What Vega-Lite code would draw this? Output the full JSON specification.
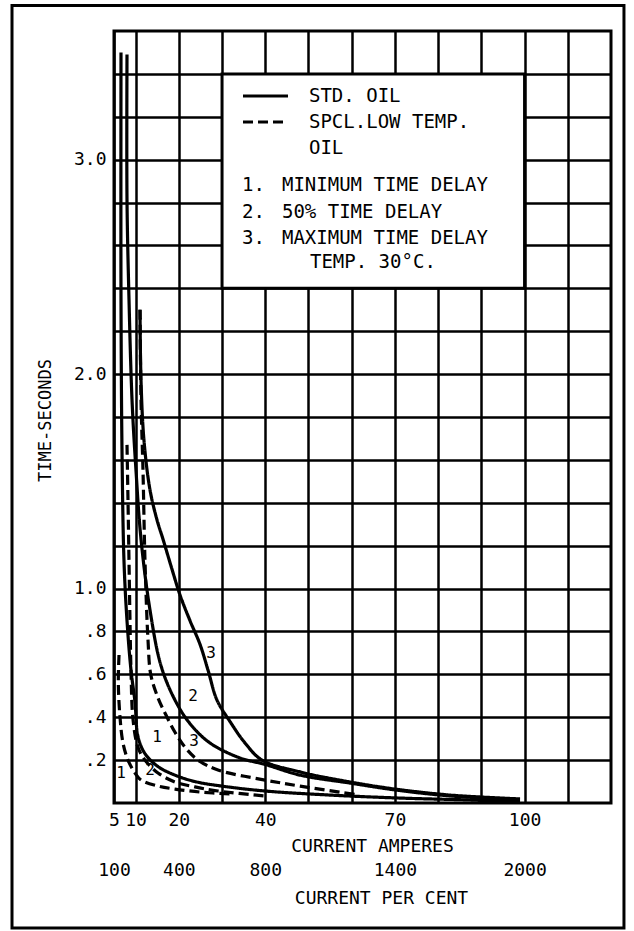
{
 "$schema": "https://vega.github.io/schema/vega-lite/v6.json",
 "width": 497, "height": 772,
 "autosize": "none",
 "padding": {"left": 114, "top": 31, "right": 23, "bottom": 128},
 "background": "white",
 "config": {"view": {"stroke": "black", "strokeWidth": 3}, "font": "DejaVu Sans Mono"},
 "datasets": {
  "curves": [
   {"c":"S1","oil":"std","i":0,"a":6.62,"s":3.50},{"c":"S1","oil":"std","i":1,"a":6.62,"s":2.35},{"c":"S1","oil":"std","i":2,"a":6.85,"s":1.65},{"c":"S1","oil":"std","i":3,"a":7.31,"s":1.13},{"c":"S1","oil":"std","i":4,"a":8.01,"s":0.85},{"c":"S1","oil":"std","i":5,"a":8.93,"s":0.62},{"c":"S1","oil":"std","i":6,"a":9.86,"s":0.47},{"c":"S1","oil":"std","i":7,"a":10.55,"s":0.31},{"c":"S1","oil":"std","i":8,"a":12.17,"s":0.23},{"c":"S1","oil":"std","i":9,"a":15.18,"s":0.17},{"c":"S1","oil":"std","i":10,"a":19.11,"s":0.13},{"c":"S1","oil":"std","i":11,"a":23.74,"s":0.10},{"c":"S1","oil":"std","i":12,"a":29.53,"s":0.08},{"c":"S1","oil":"std","i":13,"a":39.94,"s":0.056},{"c":"S1","oil":"std","i":14,"a":54.98,"s":0.037},{"c":"S1","oil":"std","i":15,"a":71.18,"s":0.023},{"c":"S1","oil":"std","i":16,"a":87.38,"s":0.014},{"c":"S1","oil":"std","i":17,"a":98.95,"s":0.005},
   {"c":"S2","oil":"std","i":0,"a":8.01,"s":3.49},{"c":"S2","oil":"std","i":1,"a":8.01,"s":2.81},{"c":"S2","oil":"std","i":2,"a":8.47,"s":2.35},{"c":"S2","oil":"std","i":3,"a":9.17,"s":1.88},{"c":"S2","oil":"std","i":4,"a":10.09,"s":1.55},{"c":"S2","oil":"std","i":5,"a":11.25,"s":1.23},{"c":"S2","oil":"std","i":6,"a":13.33,"s":0.90},{"c":"S2","oil":"std","i":7,"a":15.88,"s":0.64},{"c":"S2","oil":"std","i":8,"a":19.11,"s":0.48},{"c":"S2","oil":"std","i":9,"a":22.59,"s":0.37},{"c":"S2","oil":"std","i":10,"a":27.21,"s":0.28},{"c":"S2","oil":"std","i":11,"a":34.16,"s":0.21},{"c":"S2","oil":"std","i":12,"a":39.94,"s":0.18},{"c":"S2","oil":"std","i":13,"a":48.04,"s":0.13},{"c":"S2","oil":"std","i":14,"a":59.61,"s":0.093},{"c":"S2","oil":"std","i":15,"a":70.02,"s":0.061},{"c":"S2","oil":"std","i":16,"a":82.75,"s":0.033},{"c":"S2","oil":"std","i":17,"a":98.95,"s":0.014},
   {"c":"S3","oil":"std","i":0,"a":11.02,"s":2.30},{"c":"S3","oil":"std","i":1,"a":11.25,"s":1.97},{"c":"S3","oil":"std","i":2,"a":11.94,"s":1.69},{"c":"S3","oil":"std","i":3,"a":13.33,"s":1.46},{"c":"S3","oil":"std","i":4,"a":14.95,"s":1.32},{"c":"S3","oil":"std","i":5,"a":16.34,"s":1.23},{"c":"S3","oil":"std","i":6,"a":18.42,"s":1.09},{"c":"S3","oil":"std","i":7,"a":20.27,"s":0.97},{"c":"S3","oil":"std","i":8,"a":22.59,"s":0.85},{"c":"S3","oil":"std","i":9,"a":24.90,"s":0.74},{"c":"S3","oil":"std","i":10,"a":26.75,"s":0.62},{"c":"S3","oil":"std","i":11,"a":28.83,"s":0.48},{"c":"S3","oil":"std","i":12,"a":31.84,"s":0.38},{"c":"S3","oil":"std","i":13,"a":35.31,"s":0.28},{"c":"S3","oil":"std","i":14,"a":39.25,"s":0.20},{"c":"S3","oil":"std","i":15,"a":48.04,"s":0.145},{"c":"S3","oil":"std","i":16,"a":59.61,"s":0.098},{"c":"S3","oil":"std","i":17,"a":70.02,"s":0.065},{"c":"S3","oil":"std","i":18,"a":82.75,"s":0.037},{"c":"S3","oil":"std","i":19,"a":98.95,"s":0.019},
   {"c":"D1","oil":"spcl","i":0,"a":6.16,"s":0.69},{"c":"D1","oil":"spcl","i":1,"a":6.0,"s":0.56},{"c":"D1","oil":"spcl","i":2,"a":6.39,"s":0.40},{"c":"D1","oil":"spcl","i":3,"a":7.08,"s":0.28},{"c":"D1","oil":"spcl","i":4,"a":8.24,"s":0.20},{"c":"D1","oil":"spcl","i":5,"a":9.86,"s":0.14},{"c":"D1","oil":"spcl","i":6,"a":11.25,"s":0.107},{"c":"D1","oil":"spcl","i":7,"a":15.18,"s":0.079},{"c":"D1","oil":"spcl","i":8,"a":19.11,"s":0.065},{"c":"D1","oil":"spcl","i":9,"a":24.90,"s":0.051},{"c":"D1","oil":"spcl","i":10,"a":31.84,"s":0.042},
   {"c":"D2","oil":"spcl","i":0,"a":8.01,"s":1.67},{"c":"D2","oil":"spcl","i":1,"a":8.24,"s":1.41},{"c":"D2","oil":"spcl","i":2,"a":8.47,"s":1.13},{"c":"D2","oil":"spcl","i":3,"a":8.70,"s":0.85},{"c":"D2","oil":"spcl","i":4,"a":8.93,"s":0.62},{"c":"D2","oil":"spcl","i":5,"a":9.40,"s":0.39},{"c":"D2","oil":"spcl","i":6,"a":10.55,"s":0.26},{"c":"D2","oil":"spcl","i":7,"a":12.17,"s":0.20},{"c":"D2","oil":"spcl","i":8,"a":15.18,"s":0.14},{"c":"D2","oil":"spcl","i":9,"a":19.11,"s":0.098},{"c":"D2","oil":"spcl","i":10,"a":23.74,"s":0.075},{"c":"D2","oil":"spcl","i":11,"a":29.06,"s":0.056},{"c":"D2","oil":"spcl","i":12,"a":39.94,"s":0.033},
   {"c":"D3","oil":"spcl","i":0,"a":11.02,"s":2.30},{"c":"D3","oil":"spcl","i":1,"a":11.25,"s":1.88},{"c":"D3","oil":"spcl","i":2,"a":11.71,"s":1.55},{"c":"D3","oil":"spcl","i":3,"a":12.17,"s":1.13},{"c":"D3","oil":"spcl","i":4,"a":12.87,"s":0.76},{"c":"D3","oil":"spcl","i":5,"a":13.50,"s":0.60},{"c":"D3","oil":"spcl","i":6,"a":15.18,"s":0.49},{"c":"D3","oil":"spcl","i":7,"a":17.03,"s":0.41},{"c":"D3","oil":"spcl","i":8,"a":19.11,"s":0.33},{"c":"D3","oil":"spcl","i":9,"a":21.43,"s":0.26},{"c":"D3","oil":"spcl","i":10,"a":24.44,"s":0.20},{"c":"D3","oil":"spcl","i":11,"a":29.06,"s":0.154},{"c":"D3","oil":"spcl","i":12,"a":39.94,"s":0.107},{"c":"D3","oil":"spcl","i":13,"a":48.04,"s":0.079},{"c":"D3","oil":"spcl","i":14,"a":61.69,"s":0.037}
  ],
  "labels": [
   {"t":"1","a":6.62,"s":0.14},{"t":"2","a":13.33,"s":0.154},{"t":"1","a":14.95,"s":0.31},{"t":"3","a":23.5,"s":0.29},{"t":"2","a":23.28,"s":0.50},{"t":"3","a":27.44,"s":0.70}
  ],
  "legendText": [
   {"t":"STD. OIL","a":50.12,"s":3.297},
   {"t":"SPCL.LOW TEMP.","a":50.12,"s":3.176},
   {"t":"OIL","a":50.12,"s":3.054},
   {"t":"1.","a":34.62,"s":2.882},{"t":"MINIMUM TIME DELAY","a":43.87,"s":2.882},
   {"t":"2.","a":34.62,"s":2.758},{"t":"50% TIME DELAY","a":43.87,"s":2.758},
   {"t":"3.","a":34.62,"s":2.635},{"t":"MAXIMUM TIME DELAY","a":43.87,"s":2.635},
   {"t":"TEMP. 30°C.","a":50.35,"s":2.523}
  ],
  "legendKeys": [
   {"oil":"std","a":34.85,"a2":45.26,"s":3.297},
   {"oil":"spcl","a":34.85,"a2":45.26,"s":3.176}
  ],
  "frame": [{"a":-18.6,"a2":123.0,"s":-0.583,"s2":3.719}],
  "box": [{"a":30,"a2":100,"s":2.4,"s2":3.4}]
 },
 "encoding": {
  "y": {"field": "s", "type": "quantitative", "scale": {"domain": [0, 3.6], "nice": false, "zero": false},
   "axis": {"values": [0.2,0.4,0.6,0.8,1,1.2,1.4,1.6,1.8,2,2.2,2.4,2.6,2.8,3,3.2,3.4],
    "labelExpr": "datum.value < 0.9 ? '.' + round(datum.value*10) : (abs(datum.value - round(datum.value)) < 0.01 ? format(datum.value, '.1f') : '')",
    "grid": true, "gridColor": "black", "gridWidth": 2.5, "gridOpacity": 1, "domain": false, "ticks": false,
    "labelFont": "DejaVu Sans Mono", "labelFontSize": 18, "labelColor": "black", "labelPadding": 8, "labelFlush": false, "labelOverlap": false, "labelBound": false,
    "title": "TIME-SECONDS", "titleFont": "DejaVu Sans Mono", "titleFontSize": 17, "titleFontWeight": "normal", "titleColor": "black", "titleX": -69, "titleY": 389, "titleAlign": "center", "titleBaseline": "middle", "titleAngle": 270}}
 },
 "layer": [
  {
   "data": {"name": "frame"},
   "mark": {"type": "rect", "fillOpacity": 0, "stroke": "black", "strokeWidth": 3, "clip": false},
   "encoding": {
    "x": {"field": "a", "type": "quantitative", "scale": {"domain": [5, 120], "nice": false, "zero": false}, "axis": null},
    "x2": {"field": "a2"},
    "y2": {"field": "s2"}
   }
  },
  {
   "data": {"name": "curves"},
   "mark": {"type": "line", "color": "black", "strokeWidth": 3.2, "interpolate": "catmull-rom"},
   "encoding": {
    "x": {"field": "a", "type": "quantitative", "scale": {"domain": [5, 120], "nice": false, "zero": false},
     "axis": {"values": [5,10,20,30,40,50,60,70,80,90,100,110], "labelExpr": "indexof([5,10,20,40,70,100], datum.value) >= 0 ? datum.label : ''",
      "grid": true, "gridColor": "black", "gridWidth": 2.5, "gridOpacity": 1, "domain": false, "ticks": false,
      "labelFont": "DejaVu Sans Mono", "labelFontSize": 18, "labelColor": "black", "labelPadding": 8, "labelFlush": false, "labelOverlap": false, "labelBound": false,
      "title": "CURRENT AMPERES", "titleFont": "DejaVu Sans Mono", "titleFontSize": 18, "titleFontWeight": "normal", "titleColor": "black", "titlePadding": 8, "titleX": 258, "titleAlign": "center"}},
    "detail": {"field": "c"},
    "strokeDash": {"field": "oil", "type": "nominal", "scale": {"domain": ["std", "spcl"], "range": [[1, 0], [10, 5]]}, "legend": null},
    "order": {"field": "i", "type": "quantitative"}
   }
  },
  {
   "data": {"name": "box"},
   "mark": {"type": "rect", "fill": "white", "stroke": "black", "strokeWidth": 3},
   "encoding": {
    "x": {"field": "a", "type": "quantitative", "scale": {"domain": [5, 120], "nice": false, "zero": false}, "axis": null},
    "x2": {"field": "a2"},
    "y2": {"field": "s2"}
   }
  },
  {
   "data": {"name": "legendKeys"},
   "mark": {"type": "rule", "color": "black", "strokeWidth": 3},
   "encoding": {
    "x": {"field": "a", "type": "quantitative", "scale": {"domain": [5, 120], "nice": false, "zero": false}, "axis": null},
    "x2": {"field": "a2"},
    "strokeDash": {"field": "oil", "type": "nominal", "scale": {"domain": ["std", "spcl"], "range": [[1, 0], [10, 5]]}, "legend": null}
   }
  },
  {
   "data": {"name": "legendText"},
   "mark": {"type": "text", "align": "left", "baseline": "middle", "font": "DejaVu Sans Mono", "fontSize": 19, "color": "black"},
   "encoding": {
    "x": {"field": "a", "type": "quantitative", "scale": {"domain": [5, 120], "nice": false, "zero": false}, "axis": null},
    "text": {"field": "t"}
   }
  },
  {
   "data": {"name": "labels"},
   "mark": {"type": "text", "align": "center", "baseline": "middle", "font": "DejaVu Sans Mono", "fontSize": 16, "color": "black"},
   "encoding": {
    "x": {"field": "a", "type": "quantitative", "scale": {"domain": [5, 120], "nice": false, "zero": false},
     "axis": {"orient": "bottom", "offset": 50, "values": [5, 20, 40, 70, 100], "labelExpr": "format(datum.value * 20, 'd')",
      "grid": false, "domain": false, "ticks": false,
      "labelFont": "DejaVu Sans Mono", "labelFontSize": 18, "labelColor": "black", "labelPadding": 8, "labelDx": 6, "labelFlush": false, "labelOverlap": false, "labelBound": false,
      "title": "CURRENT PER CENT", "titleFont": "DejaVu Sans Mono", "titleFontSize": 18, "titleFontWeight": "normal", "titleColor": "black", "titlePadding": 10, "titleX": 267, "titleAlign": "center"}},
    "text": {"field": "t"}
   }
  }
 ],
 "resolve": {"axis": {"x": "independent"}}
}
